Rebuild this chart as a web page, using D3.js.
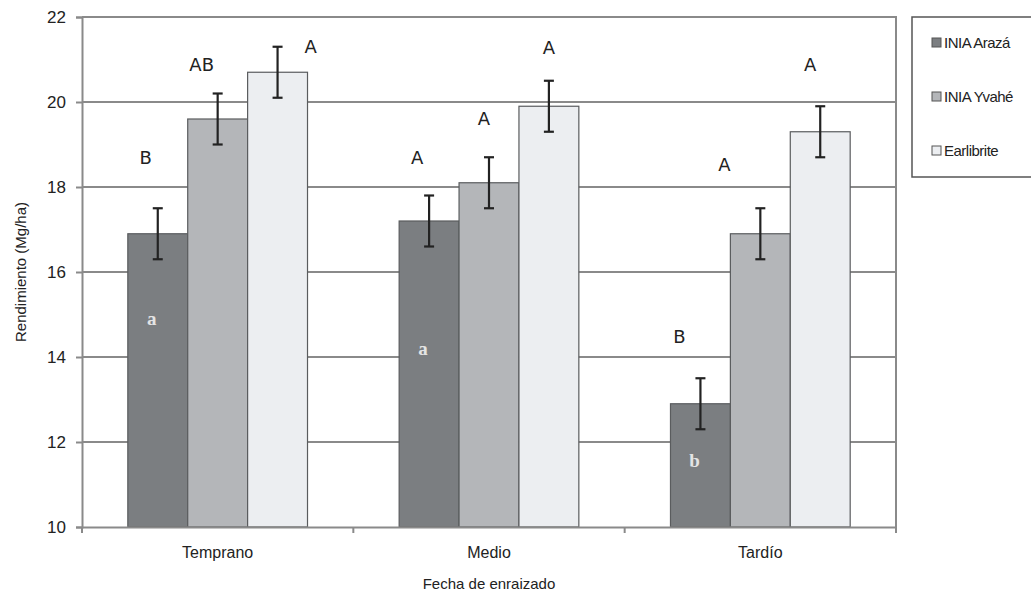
<!DOCTYPE html>
<html>
<head>
<meta charset="utf-8">
<script src="https://cdn.jsdelivr.net/npm/d3@7.9.0/dist/d3.min.js"></script>
<style>
  body { margin: 0; background: #fff; }
  text { font-family: "Liberation Sans Narrow", "Arial Narrow", "Liberation Sans", sans-serif; fill: #222; }
</style>
</head>
<body>
<svg id="chart" width="1031" height="602"></svg>
<script>
// data
const categories = ['Temprano', 'Medio', 'Tardío'];
const series     = ['INIA Arazá', 'INIA Yvahé', 'Earlibrite'];
const arazaVals  = [16.9, 17.2, 12.9];
const yvaheVals  = [19.6, 18.1, 16.9];
const earliVals  = [20.7, 19.9, 19.3];
const arazaErr   = [0.6, 0.6, 0.6];
const yvaheErr   = [0.6, 0.6, 0.6];
const earliErr   = [0.6, 0.6, 0.6];
const yTicks     = [10, 12, 14, 16, 18, 20, 22];

// significance letters (upper case above bars), value-space heights
const upperLetters = [['B', 'AB', 'A'], ['A', 'A', 'A'], ['B', 'A', 'A']];
const upperAt      = [[18.68, 20.87, 21.29], [18.68, 19.6, 21.27], [14.47, 18.52, 20.87]];
const upperDx      = [[-12, -16, 33], [-12, -5, 0], [-21, -36, -10]];
// lower case letters inside the dark bars
const lowerLetters = ['a', 'a', 'b'];
const lowerAt      = [14.92, 14.2, 11.58];

const colors = ['#7b7e81', '#b4b6b9', '#eceef1'];

const values = [arazaVals, yvaheVals, earliVals];
const errs   = [arazaErr, yvaheErr, earliErr];

const margin = { left: 82, right: 135, top: 17, bottom: 75 };
const W = 1031, H = 602;
const svg = d3.select('#chart');

const x0 = d3.scaleBand().domain(categories).range([margin.left, W - margin.right]).paddingInner(0).paddingOuter(0);
const x1 = d3.scaleBand().domain(series).range([0, x0.bandwidth()]).paddingOuter(0.765).paddingInner(0.0);
const y  = d3.scaleLinear().domain([10, 22]).range([H - margin.bottom, margin.top]);

// gridlines
svg.append('g')
  .selectAll('line')
  .data(yTicks.slice(1))
  .enter()
  .append('line')
    .attr('x1', margin.left).attr('x2', W - margin.right)
    .attr('y1', d => y(d)).attr('y2', d => y(d))
    .attr('stroke', '#8a8a8a').attr('stroke-width', 2);

// right border
svg.append('line')
  .attr('x1', W - margin.right).attr('x2', W - margin.right)
  .attr('y1', margin.top - 1).attr('y2', y(10) + 1)
  .attr('stroke', '#8a8a8a').attr('stroke-width', 2);

// bars
const rows = [];
categories.forEach((c, i) => series.forEach((s, j) => rows.push({
  cat: c, ser: s, i, j, v: values[j][i], e: errs[j][i]
})));

const bars = svg.append('g');
bars.selectAll('rect')
  .data(rows)
  .enter()
  .append('rect')
    .attr('x', d => x0(d.cat) + x1(d.ser))
    .attr('width', x1.bandwidth())
    .attr('y', d => y(d.v))
    .attr('height', d => y(10) - y(d.v))
    .attr('fill', d => colors[d.j])
    .attr('stroke', '#5a5c5e').attr('stroke-width', 1.2);

// error bars
const eb = svg.append('g').attr('stroke', '#222').attr('stroke-width', 2.2);
rows.forEach(d => {
  const cx = x0(d.cat) + x1(d.ser) + x1.bandwidth() / 2;
  eb.append('line').attr('x1', cx).attr('x2', cx).attr('y1', y(d.v + d.e)).attr('y2', y(d.v - d.e));
  eb.append('line').attr('x1', cx - 5).attr('x2', cx + 5).attr('y1', y(d.v + d.e)).attr('y2', y(d.v + d.e));
  eb.append('line').attr('x1', cx - 5).attr('x2', cx + 5).attr('y1', y(d.v - d.e)).attr('y2', y(d.v - d.e));
});

// upper-case letters
rows.forEach(d => {
  const cx = x0(d.cat) + x1(d.ser) + x1.bandwidth() / 2;
  svg.append('text')
    .attr('x', cx + upperDx[d.i][d.j])
    .attr('y', y(upperAt[d.i][d.j]))
    .attr('dy', '0.35em')
    .attr('text-anchor', 'middle')
    .style('font-family', '"DejaVu Sans", sans-serif')
    .style('font-size', '18px')
    .text(upperLetters[d.i][d.j]);
});

// lower-case letters inside dark bars
categories.forEach((c, i) => {
  svg.append('text')
    .attr('x', x0(c) + x1(series[0]) + x1.bandwidth() / 2 - 6)
    .attr('y', y(lowerAt[i]))
    .attr('dy', '0.35em')
    .attr('text-anchor', 'middle')
    .style('font-family', '"Liberation Serif", "DejaVu Serif", serif')
    .style('font-size', '19px')
    .style('font-weight', 'bold')
    .style('fill', '#e4e4e4')
    .text(lowerLetters[i]);
});

// y axis
const yAxis = svg.append('g')
  .attr('transform', `translate(${margin.left},0)`)
  .call(d3.axisLeft(y).tickValues(yTicks).tickSize(6).tickPadding(10));
yAxis.select('.domain').attr('stroke', '#8a8a8a').attr('stroke-width', 2);
yAxis.selectAll('.tick line').attr('stroke', '#8a8a8a').attr('stroke-width', 2);
yAxis.selectAll('.tick text').style('font-size', '17px').style('fill', '#222')
  .style('font-family', '"Liberation Sans Narrow", "Arial Narrow", sans-serif');

// x axis
const xAxis = svg.append('g')
  .attr('transform', `translate(0,${y(10)})`)
  .call(d3.axisBottom(x0).tickSize(0).tickPadding(20));
xAxis.select('.domain').attr('stroke', '#8a8a8a').attr('stroke-width', 2);
xAxis.selectAll('.tick text').style('font-size', '16px').style('fill', '#222')
  .style('font-family', '"Liberation Sans Narrow", "Arial Narrow", sans-serif');
// category boundary ticks
xAxis.selectAll('.bt')
  .data(categories.slice(1).concat(['end']))
  .enter()
  .append('line')
    .attr('x1', d => d === 'end' ? W - margin.right : x0(d))
    .attr('x2', d => d === 'end' ? W - margin.right : x0(d))
    .attr('y1', 0).attr('y2', 6)
    .attr('stroke', '#8a8a8a').attr('stroke-width', 2);
xAxis.append('line')
  .attr('x1', margin.left).attr('x2', margin.left).attr('y1', 0).attr('y2', 6)
  .attr('stroke', '#8a8a8a').attr('stroke-width', 2);

// axis titles
svg.append('text')
  .attr('transform', `translate(21,${(y(10) + y(22)) / 2}) rotate(-90)`)
  .attr('text-anchor', 'middle')
  .attr('dy', '0.35em')
  .style('font-size', '15px')
  .text('Rendimiento (Mg/ha)');

svg.append('text')
  .attr('x', (margin.left + W - margin.right) / 2)
  .attr('y', 584)
  .attr('text-anchor', 'middle')
  .attr('dy', '0.35em')
  .style('font-size', '15px')
  .text('Fecha de enraizado');

// legend
const lg = svg.append('g').attr('transform', 'translate(912,17)');
lg.append('rect')
  .attr('x', 0).attr('y', 0).attr('width', 140).attr('height', 160)
  .attr('fill', '#fff').attr('stroke', '#555').attr('stroke-width', 1.5);
const li = lg.selectAll('g.item')
  .data(series)
  .enter()
  .append('g')
    .attr('class', 'item')
    .attr('transform', (d, i) => `translate(20,${26 + i * 54})`);
li.append('rect')
  .attr('x', 0).attr('y', -5).attr('width', 9).attr('height', 9)
  .attr('fill', (d, i) => colors[i]).attr('stroke', '#555').attr('stroke-width', 1);
li.append('text')
  .attr('x', 12).attr('y', 0).attr('dy', '0.35em')
  .style('font-size', '15px')
  .style('letter-spacing', '-0.5px')
  .text(d => d);
</script>
</body>
</html>
